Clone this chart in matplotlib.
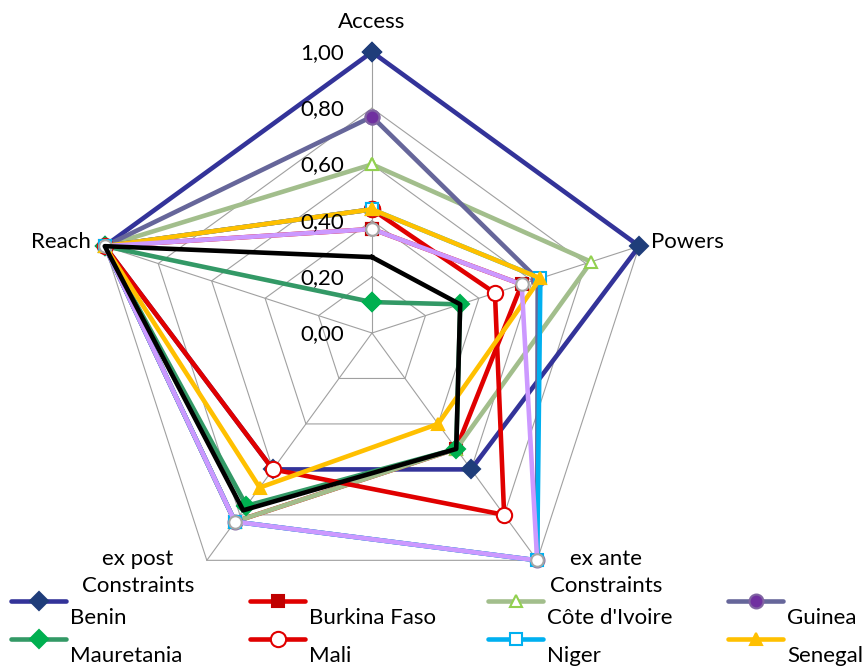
import numpy as np
import matplotlib.pyplot as plt
from matplotlib.lines import Line2D

plt.rcParams['font.family'] = ['Lato', 'DejaVu Sans']

categories = ["Access", "Powers", "ex ante\nConstraints", "ex post\nConstraints", "Reach"]
tick_values = [0.0, 0.2, 0.4, 0.6, 0.8, 1.0]
tick_labels = ["0,00", "0,20", "0,40", "0,60", "0,80", "1,00"]

# values in category order: Access, Powers, ex ante, ex post, Reach
benin = [1.00, 1.00, 0.60, 0.60, 1.00]
burkina_faso = [0.37, 0.56, 0.51, 0.83, 1.00]
cote_divoire = [0.60, 0.82, 0.51, 0.83, 1.00]
guinea = [0.77, 0.62, 1.00, 0.83, 1.00]
mauretania = [0.11, 0.33, 0.51, 0.76, 1.00]
mali = [0.44, 0.46, 0.80, 0.60, 1.00]
niger = [0.44, 0.63, 1.00, 0.83, 1.00]
senegal = [0.44, 0.63, 0.40, 0.68, 1.00]
series_9 = [0.37, 0.56, 1.00, 0.83, 1.00]
series_10 = [0.27, 0.33, 0.51, 0.78, 1.00]

# name, values, line colour, marker, marker face, marker edge, marker size, in legend
series = [
    ("Benin", benin, "#333399", "D", "#1F3D7A", "#1F3D7A", 9, True),
    ("Burkina Faso", burkina_faso, "#E00000", "s", "#C00000", "#C00000", 8, True),
    ("Côte d'Ivoire", cote_divoire, "#A2BE8C", "^", "white", "#92D050", 9, True),
    ("Guinea", guinea, "#66669A", "o", "#7030A0", "#8064A2", 10, True),
    ("Mauretania", mauretania, "#339966", "D", "#00B050", "#00B050", 9, True),
    ("Mali", mali, "#E00000", "o", "white", "#E00000", 11, True),
    ("Niger", niger, "#00B0F0", "s", "white", "#00B0F0", 8, True),
    ("Senegal", senegal, "#FFC000", "^", "#FFC000", "#FFC000", 9, True),
    ("Series 9", series_9, "#CC99FF", "o", "white", "#A6A6A6", 9, False),
    ("Series 10", series_10, "#000000", None, "black", "black", 0, False),
]

W, H = 865, 668
fig = plt.figure(figsize=(W / 100, H / 100), dpi=100)
cx, cy, R = 372, 333, 281
ax = fig.add_axes([(cx - R) / W, (H - cy - R) / H, 2 * R / W, 2 * R / H], projection='polar')
ax.set_theta_zero_location('N')
ax.set_theta_direction(-1)
ax.set_ylim(0, 1)
ax.set_axis_off()

angles = np.linspace(0, 2 * np.pi, len(categories), endpoint=False)
closed = np.append(angles, angles[0])

grid_col = "#A0A0A0"
for v in tick_values[1:]:
    ax.plot(closed, [v] * len(closed), color=grid_col, lw=0.8, zorder=0, clip_on=False)
for a in angles:
    ax.plot([a, a], [0, 1], color=grid_col, lw=0.8, zorder=0, clip_on=False)

for i, (name, vals, col, mk, mfc, mec, ms, _) in enumerate(series):
    ax.plot(closed, vals + vals[:1], color=col, lw=3.3, marker=mk, markersize=ms,
            markerfacecolor=mfc, markeredgecolor=mec, markeredgewidth=1.5,
            zorder=2 + i, clip_on=False)

for v, lbl in zip(tick_values, tick_labels):
    ax.annotate(lbl, xy=(0, v), xytext=(-28, -1), textcoords='offset pixels',
                ha='right', va='center', fontsize=16, zorder=20)

cat_offsets = [(0, 30, 'center'), (12, 4, 'left'), (69, -12, 'center'),
               (-69, -12, 'center'), (-14, 4, 'right')]
for a, cat, (dx, dy, ha) in zip(angles, categories, cat_offsets):
    ax.annotate(cat, xy=(a, 1.0), xytext=(dx, dy), textcoords='offset pixels',
                ha=ha, va='center', fontsize=16, linespacing=1.45)

# legend, Excel style: line sample with the label wrapped below it
col_x = [11, 250, 488, 728]
row_y = [601, 639]
legend_items = [s for s in series if s[7]]
for k, (name, vals, col, mk, mfc, mec, ms, _) in enumerate(legend_items):
    x0 = col_x[k % 4]
    y0 = row_y[k // 4]
    fy = 1 - y0 / H
    fig.add_artist(Line2D([x0 / W, (x0 + 55) / W], [fy, fy], color=col, lw=3.3,
                          solid_capstyle='round', transform=fig.transFigure))
    fig.add_artist(Line2D([(x0 + 27.5) / W], [fy], marker=mk, markersize=ms,
                          markerfacecolor=mfc, markeredgecolor=mec, markeredgewidth=1.5,
                          transform=fig.transFigure))
    fig.text((x0 + 59) / W, 1 - (y0 + 17) / H, name, ha='left', va='center', fontsize=16)

fig.savefig("out.png", dpi=100)
